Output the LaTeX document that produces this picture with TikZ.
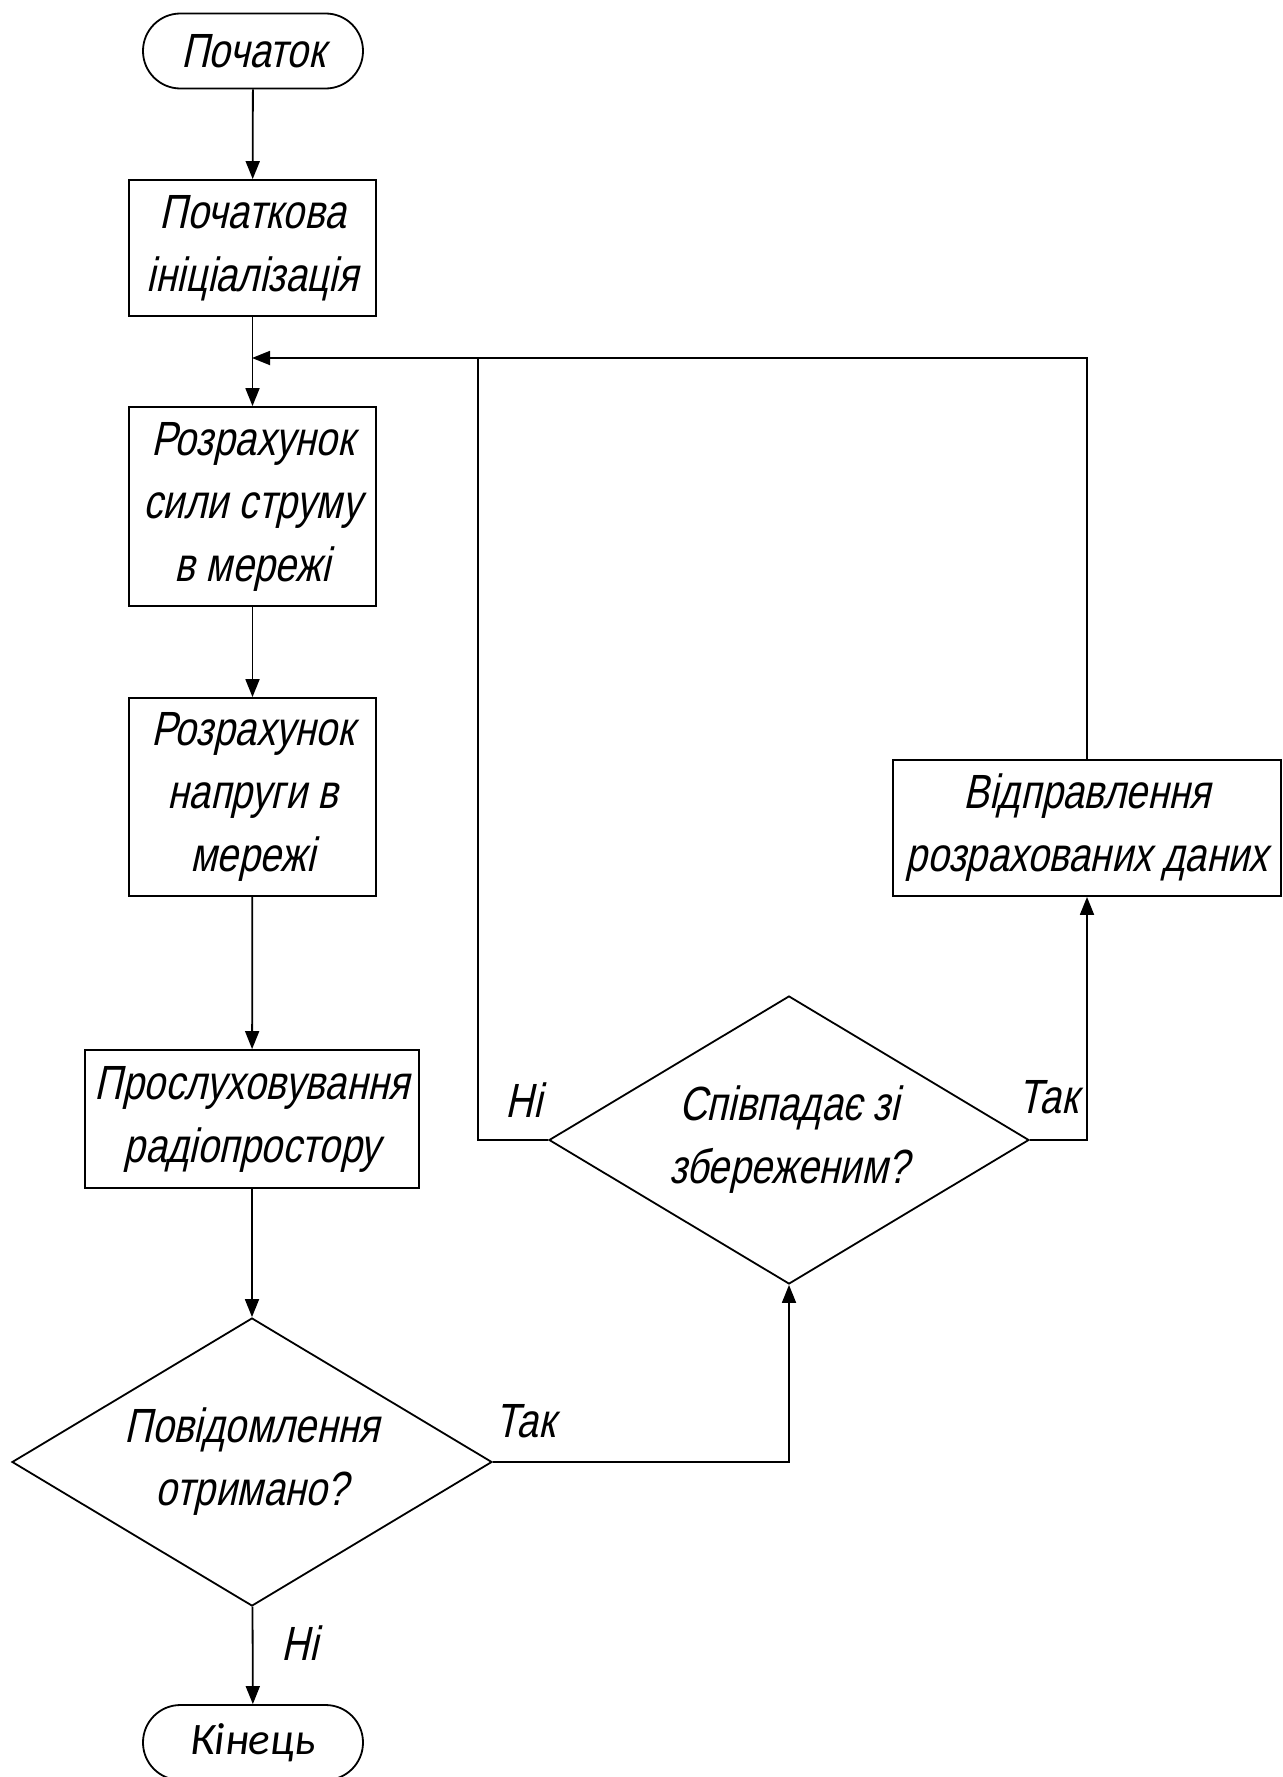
\documentclass[tikz,border=0pt]{standalone}
\usepackage{fontspec}
\setmainfont{Liberation Sans}
\newfontfamily\gost{Liberation Sans}[FakeSlant=0.22,FakeStretch=0.8]
\newfontfamily\calib{Carlito}
\usetikzlibrary{shapes.geometric,arrows.meta}
\begin{document}
\begin{tikzpicture}[x=0.5pt,y=-0.5pt,
  every node/.style={font=\gost\fontsize{24}{31.5}\selectfont, align=center, text=black},
  line/.style={line width=0.9pt, draw=black},
  arr/.style={line, -{Triangle[length=9pt,width=7pt]}},
  proc/.style={line, rectangle, inner sep=0pt},
  term/.style={line, rectangle, rounded corners=18.7pt, minimum width=110pt, minimum height=37.5pt, inner sep=0pt},
  decis/.style={line, diamond, aspect=1.667, minimum width=240pt, minimum height=144pt, inner sep=0pt},
  lbl/.style={}]
\useasboundingbox (0,0) rectangle (1282,1777);

\node[term] (start) at (253,51) {Початок};
\node[proc, minimum width=123.5pt, minimum height=68pt] (init) at (252.5,248) {Початкова\\ініціалізація};
\node[proc, minimum width=123.5pt, minimum height=99.5pt] (calcI) at (252.5,506.5) {Розрахунок\\сили струму\\в мережі};
\node[proc, minimum width=123.5pt, minimum height=99pt] (calcU) at (252.5,797) {Розрахунок\\напруги в\\мережі};
\node[proc, minimum width=167pt, minimum height=69pt] (listen) at (252,1119) {Прослуховування\\радіопростору};
\node[decis] (dec1) at (252,1462) {Повідомлення\\отримано?};
\node[term, font=\calib\itshape\fontsize{22.5}{26}\selectfont] (end) at (253,1742.5) {Кінець};
\node[decis] (dec2) at (789,1140) {Співпадає зі\\збереженим?};
\node[proc, minimum width=194pt, minimum height=68pt] (send) at (1087,828) {Відправлення\\розрахованих даних};

\coordinate (loop) at (252,358);
\coordinate (notop) at (478,358);

\draw[arr] (start) -- (init);
\draw[arr] (init) -- (calcI);
\draw[arr] (calcI) -- (calcU);
\draw[arr] (calcU) -- (listen);
\draw[arr] (listen) -- (dec1);
\draw[arr] (dec1) -- (end);
\draw[arr] (dec1.east) -| (dec2.south);
\draw[arr] (dec2.east) -| (send.south);
\draw[arr] (send.north) |- (loop);
\draw[line] (dec2.west) -| (notop);

\node[lbl] (l1) at (524,1100) {Ні};
\node[lbl] (l2) at (1048,1097) {Так};
\node[lbl] (l3) at (525,1421) {Так};
\node[lbl] (l4) at (300,1643) {Ні};
\end{tikzpicture}
\end{document}
